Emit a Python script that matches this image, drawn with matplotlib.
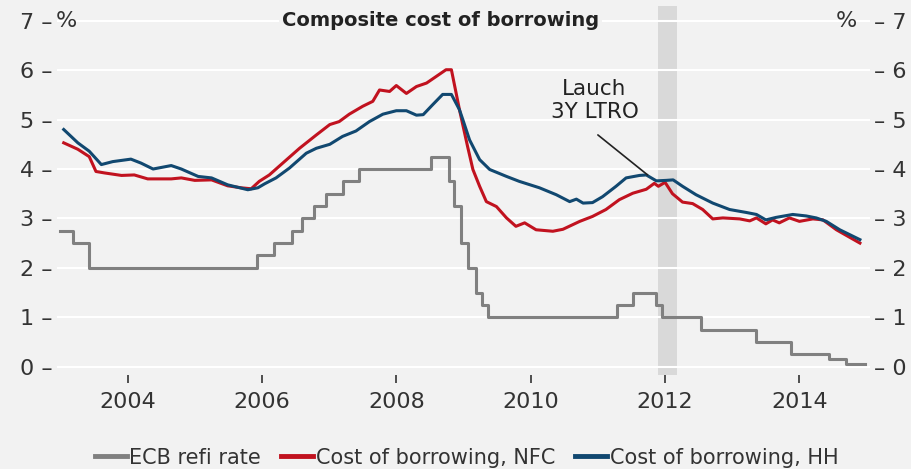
import matplotlib
matplotlib.use("Agg")
import matplotlib.pyplot as plt
import matplotlib.transforms as mtransforms
from matplotlib.ticker import FuncFormatter

# ---------------- data ----------------
ecb_dates = [2003.00, 2003.19, 2003.43, 2005.93, 2006.18, 2006.45, 2006.60, 2006.78,
             2006.95, 2007.20, 2007.45, 2008.52, 2008.79, 2008.86, 2008.96, 2009.06,
             2009.19, 2009.27, 2009.36, 2011.28, 2011.53, 2011.86, 2011.96, 2012.53,
             2013.36, 2013.87, 2014.44, 2014.70, 2014.98]
ecb_rate = [2.75, 2.50, 2.00, 2.25, 2.50, 2.75, 3.00, 3.25,
            3.50, 3.75, 4.00, 4.25, 3.75, 3.25, 2.50, 2.00,
            1.50, 1.25, 1.00, 1.25, 1.50, 1.25, 1.00, 0.75,
            0.50, 0.25, 0.15, 0.05, 0.05]

nfc_dates = [2003.05, 2003.26, 2003.43, 2003.53, 2003.66, 2003.91, 2004.10, 2004.30,
             2004.65, 2004.80, 2005.00, 2005.25, 2005.49, 2005.69, 2005.84, 2005.96,
             2006.11, 2006.31, 2006.56, 2006.81, 2007.01, 2007.15, 2007.30, 2007.50,
             2007.65, 2007.75, 2007.90, 2008.00, 2008.15, 2008.30, 2008.45, 2008.59,
             2008.74, 2008.82, 2008.94, 2009.06, 2009.14, 2009.24, 2009.34, 2009.49,
             2009.64, 2009.78, 2009.91, 2010.08, 2010.33, 2010.48, 2010.73, 2010.92,
             2011.12, 2011.32, 2011.52, 2011.72, 2011.84, 2011.90, 2012.00, 2012.11,
             2012.26, 2012.41, 2012.56, 2012.71, 2012.86, 2013.11, 2013.26, 2013.36,
             2013.50, 2013.60, 2013.70, 2013.85, 2014.00, 2014.20, 2014.35, 2014.55,
             2014.90]
nfc_rate = [4.53, 4.40, 4.25, 3.95, 3.92, 3.87, 3.88, 3.80,
            3.80, 3.82, 3.77, 3.78, 3.66, 3.62, 3.60, 3.75,
            3.88, 4.12, 4.42, 4.69, 4.90, 4.96, 5.11, 5.27,
            5.37, 5.60, 5.57, 5.69, 5.53, 5.67, 5.74, 5.87,
            6.01, 6.01, 5.20, 4.46, 3.99, 3.65, 3.34, 3.24,
            3.01, 2.84, 2.91, 2.77, 2.74, 2.78, 2.94, 3.04,
            3.18, 3.38, 3.51, 3.59, 3.71, 3.65, 3.73, 3.50,
            3.33, 3.30, 3.18, 2.99, 3.01, 2.99, 2.95, 3.01,
            2.89, 2.97, 2.91, 3.01, 2.94, 2.99, 2.97, 2.77,
            2.50]

hh_dates = [2003.05, 2003.26, 2003.43, 2003.61, 2003.78, 2004.05, 2004.20, 2004.38,
            2004.65, 2004.80, 2005.05, 2005.25, 2005.49, 2005.79, 2005.94, 2006.04,
            2006.21, 2006.41, 2006.66, 2006.81, 2007.01, 2007.20, 2007.40, 2007.60,
            2007.80, 2008.00, 2008.15, 2008.30, 2008.40, 2008.54, 2008.69, 2008.82,
            2008.94, 2008.99, 2009.09, 2009.24, 2009.39, 2009.64, 2009.83, 2010.13,
            2010.38, 2010.58, 2010.68, 2010.78, 2010.92, 2011.07, 2011.27, 2011.42,
            2011.62, 2011.72, 2011.87, 2012.02, 2012.12, 2012.26, 2012.46, 2012.71,
            2012.96, 2013.21, 2013.36, 2013.50, 2013.65, 2013.90, 2014.10, 2014.25,
            2014.40, 2014.60, 2014.90]
hh_rate = [4.80, 4.53, 4.36, 4.09, 4.15, 4.20, 4.12, 4.00,
           4.07, 4.00, 3.85, 3.82, 3.68, 3.58, 3.62, 3.70,
           3.82, 4.02, 4.32, 4.42, 4.50, 4.66, 4.77, 4.96,
           5.11, 5.18, 5.18, 5.09, 5.10, 5.30, 5.51, 5.51,
           5.20, 5.00, 4.59, 4.19, 3.99, 3.85, 3.75, 3.62,
           3.48, 3.34, 3.39, 3.31, 3.32, 3.44, 3.65, 3.82,
           3.87, 3.88, 3.76, 3.77, 3.78, 3.65, 3.48, 3.31,
           3.18, 3.12, 3.08, 2.97, 3.02, 3.08, 3.05, 3.01,
           2.94, 2.77, 2.57]

x_ticks = [2004, 2006, 2008, 2010, 2012, 2014]
y_ticks = [0, 1, 2, 3, 4, 5, 6, 7]
ltro_band = (2011.90, 2012.18)

title = "Composite cost of borrowing"
labels = ["ECB refi rate", "Cost of borrowing, NFC", "Cost of borrowing, HH"]
note = "Lauch\n3Y LTRO"
note_xy = (2010.95, 5.38)
leader_start = (2011.00, 4.69)
leader_end = (2011.74, 3.88)

# ---------------- style ----------------
BG = "#f2f2f2"
GRAY = "#808080"
RED = "#c1121f"
BLUE = "#114870"
TXT = "#333333"
plt.rcParams["font.family"] = ["DejaVu Sans"]

fig = plt.figure(figsize=(9.12, 4.69), dpi=100, facecolor=BG)
ax = fig.add_axes([57 / 912, 1 - 375 / 469, (870 - 57) / 912, (375 - 6) / 469])
ax.set_facecolor(BG)

ax.axvspan(*ltro_band, color="#d9d9d9", zorder=0.3, lw=0)
ax.set_axisbelow(True)
ax.grid(axis="y", color="white", lw=1.5)
ax.grid(axis="x", visible=False)

l1, = ax.plot(ecb_dates, ecb_rate, drawstyle="steps-post", color=GRAY, lw=2.2, zorder=3)
l2, = ax.plot(nfc_dates, nfc_rate, color=RED, lw=2.2, zorder=4)
l3, = ax.plot(hh_dates, hh_rate, color=BLUE, lw=2.2, zorder=5)

ax.set_xlim(2002.95, 2015.05)
ax.set_ylim(-0.17, 7.30)
for s in ax.spines.values():
    s.set_visible(False)

ax.set_xticks(x_ticks)
ax.set_xticklabels([str(t) for t in x_ticks])
ax.tick_params(axis="x", direction="out", length=6, width=1.2, color=TXT,
               labelsize=16, labelcolor=TXT, pad=6)

ax.set_yticks(y_ticks)
ax.yaxis.set_major_formatter(FuncFormatter(lambda v, p: f"{int(v)} \u2013"))
ax.tick_params(axis="y", length=0, labelsize=16, labelcolor=TXT, pad=3)
ax2 = ax.twinx()
ax2.set_ylim(ax.get_ylim())
ax2.set_yticks(y_ticks)
ax2.yaxis.set_major_formatter(FuncFormatter(lambda v, p: f"\u2013 {int(v)}"))
ax2.tick_params(axis="y", length=0, labelsize=16, labelcolor=TXT, pad=3)
for s in ax2.spines.values():
    s.set_visible(False)

trans = mtransforms.blended_transform_factory(ax.transAxes, ax.transData)
ax.text(-0.002, 7, "%", transform=trans, ha="left", va="center", fontsize=16, color=TXT)
ax.text(0.984, 7, "%", transform=trans, ha="right", va="center", fontsize=16, color=TXT)
ax.text(0.472, 7, title, transform=trans, ha="center", va="center", fontsize=14,
        fontweight="bold", color="#222222", zorder=6,
        bbox=dict(facecolor=BG, edgecolor="none", pad=2))

ax.text(*note_xy, note, ha="center", va="center", fontsize=15.5, color="#222222", zorder=6)
ax.annotate("", xy=leader_end, xytext=leader_start, zorder=6,
            arrowprops=dict(arrowstyle="-", color="#222222", lw=1.2, shrinkA=0, shrinkB=0))

fig.legend([l1, l2, l3], labels, loc="center", bbox_to_anchor=(0.5115, 0.024), ncol=3,
           frameon=False, fontsize=15, handlelength=1.55, handletextpad=0.12,
           columnspacing=0.95, labelcolor=TXT, borderaxespad=0, borderpad=0)
for h in fig.legends[0].legend_handles:
    h.set_linewidth(3.5)

fig.savefig("out.png", dpi=100, facecolor=BG)
